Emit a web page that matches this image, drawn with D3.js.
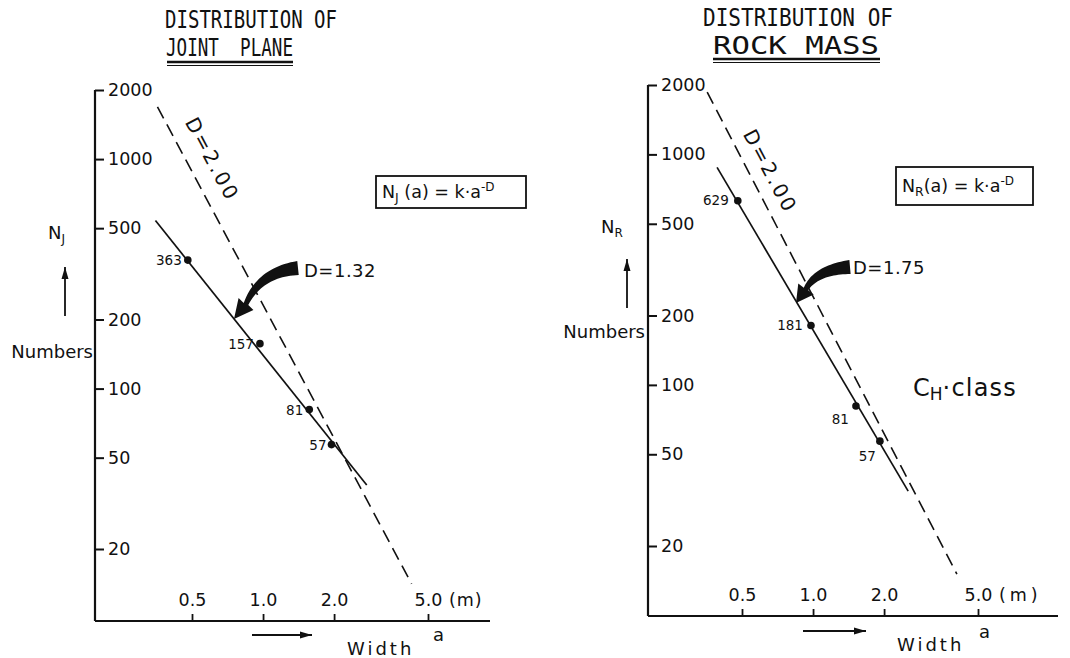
<!DOCTYPE html>
<html>
<head>
<meta charset="utf-8">
<script src="https://cdn.jsdelivr.net/npm/d3@7"></script>
<style>
    body { margin: 0; background: #fff; }
    svg { display: block; }
    text { font-family: "DejaVu Sans", sans-serif; fill: #111; }
</style>
</head>
<body>
<svg id="chart" width="1070" height="658"></svg>
<script>
// tick values on both panels
const widthTicks = [0.5, 1.0, 2.0, 5.0];
const numberTicks = [20, 50, 100, 200, 500, 1000, 2000];

// joint plane counts
const jointWidths = [0.48, 0.97, 1.57, 1.95];
const jointCounts = [363, 157, 81, 57];
// fitted line (D=1.32) and reference line (D=2.00), end points
const jointFitWidths = [0.35, 2.75];
const jointFitCounts = [540, 38];
const jointRefWidths = [0.357, 4.26];
const jointRefCounts = [1690, 14.1];

// rock mass counts
const rockWidths = [0.48, 0.98, 1.52, 1.92];
const rockCounts = [629, 181, 81, 57];
const rockFitWidths = [0.392, 2.53];
const rockFitCounts = [878, 34.6];
const rockRefWidths = [0.356, 4.07];
const rockRefCounts = [1862, 15.1];

const svg = d3.select('#chart')

/**
 * tapered curved arrow, quadratic body from p0 (via p1) to p2, head ends at tip
 */
function taperedArrow(p0, p1, p2, tip, w0, w1, hw) {
    const n = 24, left = [], right = []
    for (let i = 0; i <= n; i++) {
        const t = i / n
        const px = (1 - t) * (1 - t) * p0[0] + 2 * (1 - t) * t * p1[0] + t * t * p2[0]
        const py = (1 - t) * (1 - t) * p0[1] + 2 * (1 - t) * t * p1[1] + t * t * p2[1]
        const dx = 2 * (1 - t) * (p1[0] - p0[0]) + 2 * t * (p2[0] - p1[0])
        const dy = 2 * (1 - t) * (p1[1] - p0[1]) + 2 * t * (p2[1] - p1[1])
        const len = Math.hypot(dx, dy)
        const nx = -dy / len, ny = dx / len
        const w = (w0 + (w1 - w0) * t) / 2
        left.push([px + nx * w, py + ny * w])
        right.push([px - nx * w, py - ny * w])
    }
    const hx = tip[0] - p2[0], hy = tip[1] - p2[1]
    const hl = Math.hypot(hx, hy)
    const bx = -hy / hl * hw / 2, by = hx / hl * hw / 2
    const p = d3.path()
    p.moveTo(left[0][0], left[0][1])
    left.forEach(d => p.lineTo(d[0], d[1]))
    p.lineTo(p2[0] + bx, p2[1] + by)
    p.lineTo(tip[0], tip[1])
    p.lineTo(p2[0] - bx, p2[1] - by)
    right.slice().reverse().forEach(d => p.lineTo(d[0], d[1]))
    p.closePath()
    return p.toString()
}

function straightArrow(g, x1, y1, x2, y2) {
    g.append('line')
        .attr('x1', x1).attr('y1', y1).attr('x2', x2).attr('y2', y2)
        .attr('stroke', '#111').attr('stroke-width', 1.8)
    const a = Math.atan2(y2 - y1, x2 - x1)
    const L = 12, W = 3.5
    const bx = x2 - Math.cos(a) * L, by = y2 - Math.sin(a) * L
    g.append('path')
        .attr('d', `M${x2},${y2}L${bx - Math.sin(a) * W},${by + Math.cos(a) * W}L${bx + Math.sin(a) * W},${by - Math.cos(a) * W}Z`)
        .attr('fill', '#111')
}

// lettering-style title: monospaced, squeezed to the measured width
function titleLine(g, str, [x, y, w]) {
    g.append('text')
        .attr('x', x).attr('y', y)
        .style('font-family', '"DejaVu Sans Mono", monospace')
        .attr('font-size', 25)
        .attr('textLength', w).attr('lengthAdjust', 'spacingAndGlyphs')
        .text(str)
}

function drawPanel(p) {
    const g = svg.append('g')

    const x = d3.scaleLog().domain([0.5, 5]).range(p.xRange)
    const y = d3.scaleLog().domain([20, 2000]).range(p.yRange)

    // title
    titleLine(g, 'DISTRIBUTION OF', p.title1)
    titleLine(g, p.title, p.title2)
    g.append('line')
        .attr('x1', p.underline[0]).attr('x2', p.underline[1])
        .attr('y1', p.underline[2]).attr('y2', p.underline[2])
        .attr('stroke', '#111').attr('stroke-width', 2.4)
    g.append('line')
        .attr('x1', p.underline[0]).attr('x2', p.underline[1])
        .attr('y1', p.underline[2] + 3.5).attr('y2', p.underline[2] + 3.5)
        .attr('stroke', '#111').attr('stroke-width', 1.2)

    // axes
    const yAxis = d3.axisRight(y).tickValues(numberTicks).tickSize(9).tickPadding(4)
        .tickFormat(d3.format('d'))
    const gy = g.append('g').attr('transform', `translate(${p.x0},0)`).call(yAxis)
    gy.select('.domain').remove()
    gy.selectAll('line').attr('stroke', '#111').attr('stroke-width', 2)
    gy.selectAll('text').attr('font-size', 17.5).attr('fill', '#111')

    const xAxis = d3.axisTop(x).tickValues(widthTicks).tickSize(7).tickPadding(8)
        .tickFormat(d3.format('.1f'))
    const gx = g.append('g').attr('transform', `translate(0,${p.y0})`).call(xAxis)
    gx.select('.domain').remove()
    gx.selectAll('line').attr('stroke', '#111').attr('stroke-width', 1.8)
    gx.selectAll('text').attr('font-size', 17.5).attr('fill', '#111')

    g.append('text')
        .attr('x', x(5) + 21).attr('y', p.y0 - 15)
        .attr('font-size', 17.5).attr('letter-spacing', p.unitSpacing)
        .text('(m)')

    g.append('path')
        .attr('d', `M${p.x0},${p.y0}L${p.x0},${y(2000)}`)
        .attr('stroke', '#111').attr('stroke-width', 2.2).attr('fill', 'none')
    g.append('line')
        .attr('x1', p.x0).attr('x2', p.xEnd).attr('y1', p.y0).attr('y2', p.y0)
        .attr('stroke', '#111').attr('stroke-width', 2.2)

    // axis titles
    const ny = g.append('text').attr('x', p.nLabel[0]).attr('y', p.nLabel[1]).attr('font-size', 18)
    ny.append('tspan').text('N')
    ny.append('tspan').attr('font-size', 12).attr('dy', 4).text(p.sub)
    straightArrow(g, p.upArrow[0], p.upArrow[2], p.upArrow[0], p.upArrow[1])
    g.append('text')
        .attr('x', p.numbers[0]).attr('y', p.numbers[1])
        .attr('font-size', 18).attr('text-anchor', 'end')
        .text('Numbers')

    straightArrow(g, p.rightArrow[0], p.rightArrow[2], p.rightArrow[1], p.rightArrow[2])
    g.append('text')
        .attr('x', p.widthLabel[0]).attr('y', p.widthLabel[1])
        .attr('font-size', 18).attr('letter-spacing', 3)
        .text('Width')
    g.append('text')
        .attr('x', p.aLabel[0]).attr('y', p.aLabel[1])
        .attr('font-size', 18)
        .text('a')

    // lines
    const line = d3.line().x(d => x(d[0])).y(d => y(d[1]))
    g.append('path')
        .attr('d', line(d3.zip(p.refW, p.refN)))
        .attr('stroke', '#111').attr('stroke-width', 1.6).attr('fill', 'none')
        .attr('stroke-dasharray', '13,7')
    g.append('path')
        .attr('d', line(d3.zip(p.fitW, p.fitN)))
        .attr('stroke', '#111').attr('stroke-width', 1.7).attr('fill', 'none')

    g.append('text')
        .attr('transform', `translate(${p.refLabel[0]},${p.refLabel[1]}) rotate(62)`)
        .attr('text-anchor', 'middle').attr('dominant-baseline', 'middle')
        .attr('font-size', 20).attr('letter-spacing', 2.5)
        .text('D=2.00')

    // points
    const pts = d3.zip(p.widths, p.counts)
    g.selectAll('circle.pt').data(pts).enter().append('circle')
        .attr('class', 'pt')
        .attr('cx', d => x(d[0])).attr('cy', d => y(d[1]))
        .attr('r', 3.8).attr('fill', '#111')
    g.selectAll('text.pt').data(pts).enter().append('text')
        .attr('class', 'pt')
        .attr('x', (d, i) => x(d[0]) + p.ptOffsets[i][0])
        .attr('y', (d, i) => y(d[1]) + p.ptOffsets[i][1])
        .attr('text-anchor', 'end')
        .attr('font-size', 13.5)
        .text(d => d[1])

    // fitted slope label with thick arrow
    g.append('path')
        .attr('d', taperedArrow(...p.bigArrow, 14, 5, 19))
        .attr('fill', '#111')
    g.append('text')
        .attr('x', p.dLabel[0]).attr('y', p.dLabel[1])
        .attr('font-size', 18).attr('letter-spacing', 0.5)
        .text(p.dText)

    // formula box
    g.append('rect')
        .attr('x', p.box[0]).attr('y', p.box[1]).attr('width', p.box[2]).attr('height', p.box[3])
        .attr('fill', 'none').attr('stroke', '#111').attr('stroke-width', 1.8)
    const f = g.append('text')
        .attr('x', p.box[0] + 6).attr('y', p.box[1] + p.box[3] / 2 + 6)
        .attr('font-size', 17.5)
    f.append('tspan').text('N')
    f.append('tspan').attr('font-size', 12.5).attr('dy', 4).text(p.sub)
    f.append('tspan').attr('dy', -4).text(p.formulaGap + '(a) = k\u00b7a')
    f.append('tspan').attr('font-size', 12).attr('dy', -7).text('-D')

    return g
}

drawPanel({
    title: 'JOINT\u00a0\u00a0PLANE', title1: [165, 28, 172], title2: [166, 56, 127], underline: [167, 293, 62],
    x0: 95, y0: 621, xEnd: 490, xRange: [192, 428], yRange: [549, 90],
    sub: 'J', nLabel: [48, 239], upArrow: [65, 267, 316], numbers: [93, 358],
    rightArrow: [252, 312, 635], widthLabel: [347, 655], aLabel: [433, 641], unitSpacing: 1,
    widths: jointWidths, counts: jointCounts,
    fitW: jointFitWidths, fitN: jointFitCounts, refW: jointRefWidths, refN: jointRefCounts,
    refLabel: [211, 160],
    ptOffsets: [[-6, 5], [-6, 5], [-6, 5], [-5, 5]],
    bigArrow: [[298, 268], [260, 272], [246, 304], [234, 319]],
    dLabel: [304, 277], dText: 'D=1.32',
    box: [376, 176, 150, 32], formulaGap: ' '
})

const right = drawPanel({
    title: 'ROCK MASS', title1: [703, 26, 190], title2: [713, 54, 166], underline: [713, 880, 59],
    x0: 648, y0: 616, xEnd: 1058, xRange: [742, 978], yRange: [546, 85],
    sub: 'R', nLabel: [601, 233], upArrow: [627, 259, 308], numbers: [645, 338],
    rightArrow: [803, 866, 631], widthLabel: [897, 651], aLabel: [979, 638], unitSpacing: 4,
    widths: rockWidths, counts: rockCounts,
    fitW: rockFitWidths, fitN: rockFitCounts, refW: rockRefWidths, refN: rockRefCounts,
    refLabel: [769, 172],
    ptOffsets: [[-9, 4], [-8, 5], [-7, 18], [-4, 20]],
    bigArrow: [[850, 267], [816, 270], [806, 289], [796, 303]],
    dLabel: [853, 274], dText: 'D=1.75',
    box: [896, 167, 137, 38], formulaGap: ''
})

const ch = right.append('text').attr('x', 913).attr('y', 396).attr('font-size', 24)
ch.append('tspan').text('C')
ch.append('tspan').attr('font-size', 17).attr('dy', 4).text('H')
ch.append('tspan').attr('dy', -4).attr('letter-spacing', 1.2).text('\u00b7class')
</script>
</body>
</html>
